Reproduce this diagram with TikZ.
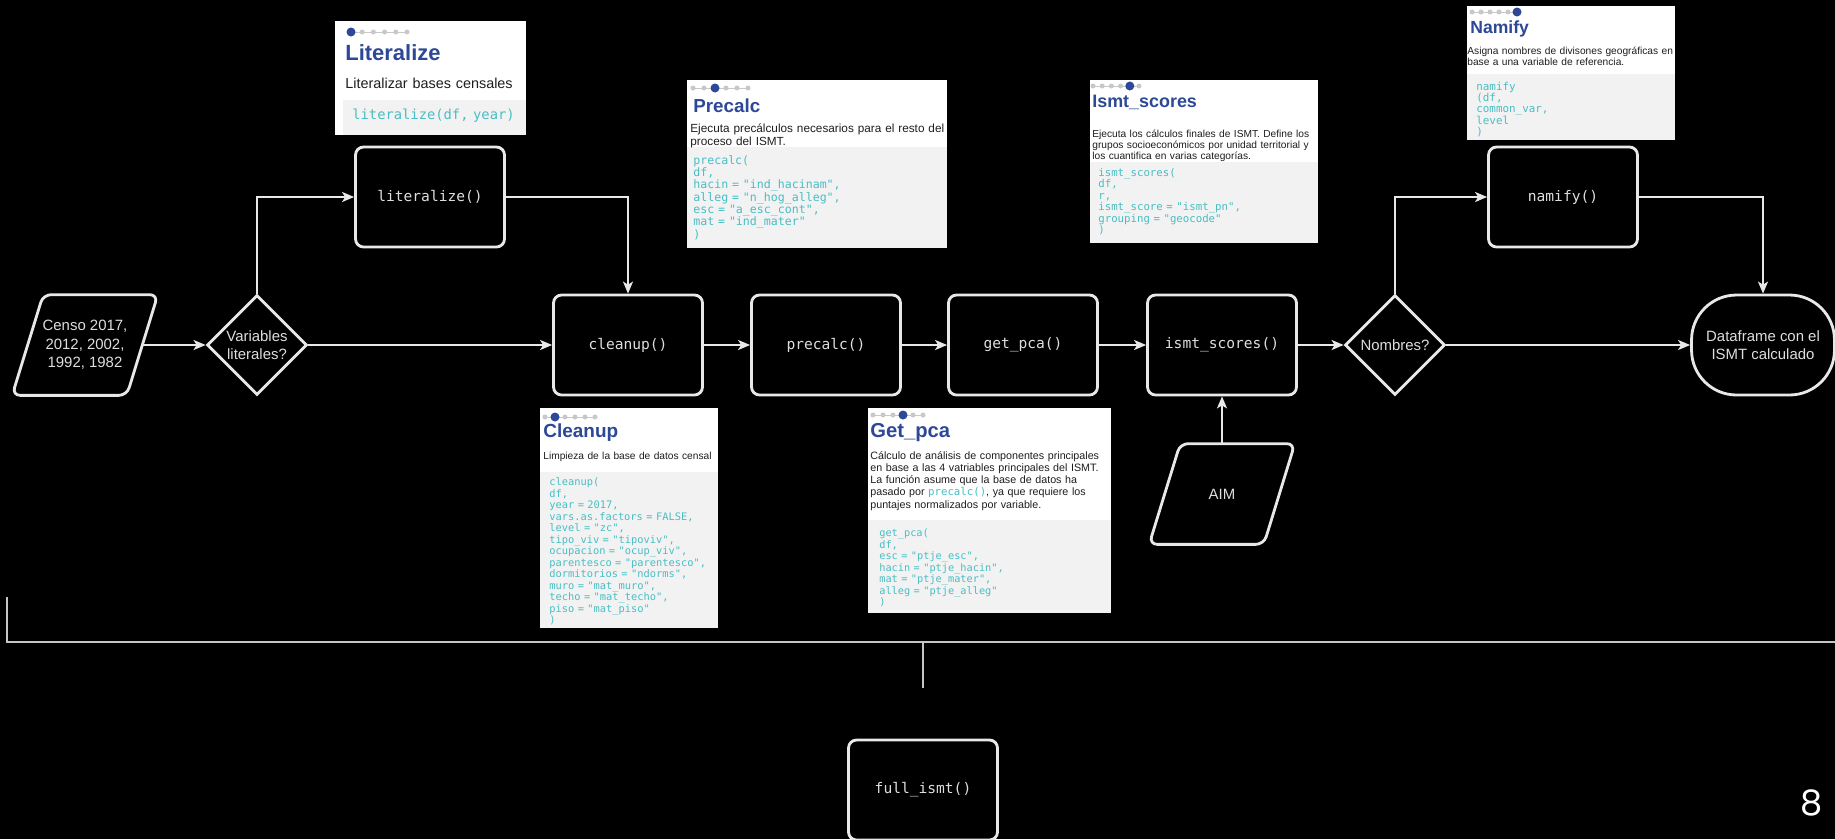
\documentclass[tikz,border=0pt]{standalone}
\usepackage{fontspec}
\setmainfont{Liberation Sans}
\newfontfamily\codefont{DejaVu Sans Mono}
\newfontfamily\pagefont{Poppins}
\usetikzlibrary{shapes.geometric, arrows.meta, positioning}
\definecolor{titleblue}{RGB}{44, 72, 150}
\definecolor{codeteal}{RGB}{72, 190, 196}
\definecolor{codebg}{RGB}{242, 242, 242}
\definecolor{linegray}{RGB}{232, 232, 232}
\definecolor{dotgray}{RGB}{200, 200, 200}
\definecolor{desctext}{RGB}{30, 30, 30}
\definecolor{labelgray}{RGB}{222, 222, 222}

\tikzset{
  fnbox/.style={draw=linegray, line width=1.6pt, rounded corners=0.16cm, minimum width=2.98cm, minimum height=2cm, text=labelgray, font=\codefont\fontsize{8.3}{10}\selectfont},
  decision/.style={diamond, draw=linegray, line width=1.6pt, minimum width=2cm, minimum height=2cm, inner sep=0pt, align=center, text=labelgray, font=\fontsize{8.5}{10.5}\selectfont},
  datain/.style={minimum width=2.28cm, minimum height=2cm, align=center, text=labelgray, font=\fontsize{8.5}{10.5}\selectfont},
  paraline/.style={draw=linegray, line width=1.6pt, rounded corners=0.16cm},
  terminal/.style={draw=linegray, line width=1.6pt, rounded corners=0.9cm, minimum width=2.86cm, minimum height=2cm, align=center, text=labelgray, font=\fontsize{8.5}{10.5}\selectfont},
  conn/.style={draw=linegray, line width=1.1pt, -{Stealth[length=0.24cm, width=0.2cm, inset=0.06cm]}},
  bracket/.style={draw=linegray!85!black, line width=1.5pt},
  dotline/.style={draw=dotgray, line width=0.5pt},
  cardtitle/.style={anchor=base west, inner sep=0pt, text=titleblue},
  carddesc/.style={anchor=base west, inner sep=0pt, text=desctext, align=left, text width=6cm},
  cardcode/.style={anchor=base west, inner sep=0pt, text=codeteal, align=left, text width=5cm},
}

\begin{document}
\begin{tikzpicture}[x=0.02cm, y=-0.02cm]
  \fill[black] (0,0) rectangle (1835,839);
  \useasboundingbox (0,0) rectangle (1835,839);

  % Flow
  \node[datain] (censo) at (85,345) {Censo 2017,\\2012, 2002,\\1992, 1982};
  \draw[paraline] ([xshift=-0.31cm]censo.south west) -- ([xshift=-0.31cm]censo.south east) -- ([xshift=0.31cm]censo.north east) -- ([xshift=0.31cm]censo.north west) -- cycle;
  \node[decision] (varlit) at (257,345) {Variables\\literales?};
  \node[fnbox] (literalize) at (430,197) {literalize()};
  \node[fnbox] (cleanup) at (628,345) {cleanup()};
  \node[fnbox] (precalc) at (826,345) {precalc()};
  \node[fnbox] (getpca) at (1023,345) {get\_pca()};
  \node[fnbox] (ismtsc) at (1222,345) {ismt\_scores()};
  \node[datain] (aim) at (1222,494) {AIM};
  \draw[paraline] ([xshift=-0.31cm]aim.south west) -- ([xshift=-0.31cm]aim.south east) -- ([xshift=0.31cm]aim.north east) -- ([xshift=0.31cm]aim.north west) -- cycle;
  \node[decision] (nombres) at (1395,345) {Nombres?};
  \node[fnbox] (namifyfn) at (1563,197) {namify()};
  \node[terminal] (dataframe) at (1763,345) {Dataframe con el\\ISMT calculado};
  \node[fnbox] (fullismt) at (923,790) {full\_ismt()};

  \draw[conn] (censo) -- (varlit);
  \draw[conn] (varlit.north) |- (literalize.west);
  \draw[conn] (literalize.east) -| (cleanup.north);
  \draw[conn] (varlit) -- (cleanup);
  \draw[conn] (cleanup) -- (precalc);
  \draw[conn] (precalc) -- (getpca);
  \draw[conn] (getpca) -- (ismtsc);
  \draw[conn] (ismtsc) -- (nombres);
  \draw[conn] (aim) -- (ismtsc);
  \draw[conn] (nombres.north) |- (namifyfn.west);
  \draw[conn] (namifyfn.east) -| (dataframe.north);
  \draw[conn] (nombres) -- (dataframe);

  % Bracket to full_ismt()
  \coordinate (brtop) at (7,597);
  \coordinate (brend) at (1835,642);
  \coordinate (brmid) at (923,642);
  \coordinate (brtip) at (923,688);
  \draw[bracket] (brtop) |- (brend);
  \draw[bracket, line width=1.1pt] (brmid) -- (brtip);

  % Literalize card
  \fill[white] (335,21) rectangle (526,135);
  \fill[codebg] (343,100) rectangle (526,135);
  \draw[dotline] (351,32) -- ++(56,0);
  \foreach \k in {0,...,5} \fill[dotgray] (351+11.2*\k,32) circle (0.05cm);
  \fill[titleblue] (351,32) circle (0.09cm);
  \node[cardtitle, font=\bfseries\fontsize{12.5}{14}\selectfont] (littitle) at (345,60) {Literalize};
  \node[carddesc, font=\fontsize{8.2}{9.5}\selectfont] (litdesc) at (345,88) {Literalizar bases censales};
  \node[cardcode, font=\codefont\fontsize{7.85}{9}\selectfont] (litcode) at (352,119) {literalize(df, year)};

  % Precalc card
  \fill[white] (687,80) rectangle (947,248);
  \fill[codebg] (687,147) rectangle (947,248);
  \draw[dotline] (693,88) -- ++(55,0);
  \foreach \k in {0,...,5} \fill[dotgray] (693+11*\k,88) circle (0.05cm);
  \fill[titleblue] (715,88) circle (0.09cm);
  \node[cardtitle, font=\bfseries\fontsize{10.7}{12}\selectfont] (pretitle) at (693,112) {Precalc};
  \node[carddesc, font=\fontsize{6.7}{7.4}\selectfont] (predesc) at (690,132) {Ejecuta precálculos necesarios para el resto del\\proceso del ISMT.};
  \node[cardcode, font=\codefont\fontsize{6.6}{7.05}\selectfont] (precode) at (693,164) {precalc(\\df,\\hacin = "ind\_hacinam",\\alleg = "n\_hog\_alleg",\\esc = "a\_esc\_cont",\\mat = "ind\_mater"\\)};

  % Ismt_scores card
  \fill[white] (1090,80) rectangle (1318,243);
  \fill[codebg] (1090,162) rectangle (1318,243);
  \draw[dotline] (1093,86) -- ++(46,0);
  \foreach \k in {0,...,5} \fill[dotgray] (1093+9.2*\k,86) circle (0.05cm);
  \fill[titleblue] (1129.8,86) circle (0.09cm);
  \node[cardtitle, font=\bfseries\fontsize{10.2}{12}\selectfont] (isttitle) at (1092,107) {Ismt\_scores};
  \node[carddesc, font=\fontsize{5.8}{6.3}\selectfont] (istdesc) at (1092,137) {Ejecuta los cálculos finales de ISMT. Define los\\grupos socioeconómicos por unidad territorial y\\los cuantifica en varias categorías.};
  \node[cardcode, font=\codefont\fontsize{6.1}{6.5}\selectfont] (istcode) at (1098,176.5) {ismt\_scores(\\df,\\r,\\ismt\_score = "ismt\_pn",\\grouping = "geocode"\\)};

  % Namify card
  \fill[white] (1467,6) rectangle (1675,140);
  \fill[codebg] (1467,74) rectangle (1675,140);
  \draw[dotline] (1472,12) -- ++(45,0);
  \foreach \k in {0,...,5} \fill[dotgray] (1472+9*\k,12) circle (0.05cm);
  \fill[titleblue] (1517,12) circle (0.09cm);
  \node[cardtitle, font=\bfseries\fontsize{10}{12}\selectfont] (namtitle) at (1470,33) {Namify};
  \node[carddesc, font=\fontsize{5.8}{6.8}\selectfont] (namdesc) at (1467,54) {Asigna nombres de divisones geográficas en\\base a una variable de referencia.};
  \node[cardcode, font=\codefont\fontsize{6.2}{6.4}\selectfont] (namcode) at (1476,90.5) {namify\\(df,\\common\_var,\\level\\)};

  % Cleanup card
  \fill[white] (540,408) rectangle (718,628);
  \fill[codebg] (540,472) rectangle (718,628);
  \draw[dotline] (545,417) -- ++(50,0);
  \foreach \k in {0,...,5} \fill[dotgray] (545+10*\k,417) circle (0.05cm);
  \fill[titleblue] (555,417) circle (0.09cm);
  \node[cardtitle, font=\bfseries\fontsize{10.8}{12}\selectfont] (clntitle) at (543,437) {Cleanup};
  \node[carddesc, font=\fontsize{5.8}{6.5}\selectfont] (clndesc) at (543,459) {Limpieza de la base de datos censal};
  \node[cardcode, font=\codefont\fontsize{5.9}{6.55}\selectfont] (clncode) at (549,485.5) {cleanup(\\df,\\year = 2017,\\vars.as.factors = FALSE,\\level = "zc",\\tipo\_viv = "tipoviv",\\ocupacion = "ocup\_viv",\\parentesco = "parentesco",\\dormitorios = "ndorms",\\muro = "mat\_muro",\\techo = "mat\_techo",\\piso = "mat\_piso"\\)};

  % Get_pca card
  \fill[white] (868,408) rectangle (1111,613);
  \fill[codebg] (868,520) rectangle (1111,613);
  \draw[dotline] (873,415) -- ++(50,0);
  \foreach \k in {0,...,5} \fill[dotgray] (873+10*\k,415) circle (0.05cm);
  \fill[titleblue] (903,415) circle (0.09cm);
  \node[cardtitle, font=\bfseries\fontsize{11.5}{13}\selectfont] (pcatitle) at (870,437) {Get\_pca};
  \node[carddesc, font=\fontsize{6.1}{7}\selectfont] (pcadesc) at (870,459) {Cálculo de análisis de componentes principales\\en base a las 4 vatriables principales del ISMT.\\La función asume que la base de datos ha\\pasado por {\codefont\color{codeteal}precalc()}, ya que requiere los\\puntajes normalizados por variable.};
  \node[cardcode, font=\codefont\fontsize{5.85}{6.55}\selectfont] (pcacode) at (879,536.5) {get\_pca(\\df,\\esc = "ptje\_esc",\\hacin = "ptje\_hacin",\\mat = "ptje\_mater",\\alleg = "ptje\_alleg"\\)};

  % Page number
  \node[text=white, font=\pagefont\fontsize{20}{22}\selectfont] (pagenum) at (1812,803) {8};
\end{tikzpicture}
\end{document}
